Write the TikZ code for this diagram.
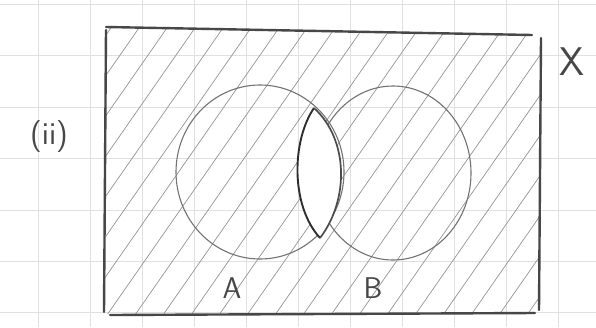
\documentclass[tikz,border=0pt]{standalone}
\begin{document}
\begin{tikzpicture}[x=1pt,y=-1pt,
  gridline/.style={draw=black!12, line width=0.7pt},
  frame/.style={draw=black!72, line width=2.4pt, line cap=round},
  setline/.style={draw=black!55, line width=1.1pt},
  hatch/.style={draw=black!42, line width=0.7pt},
  lensline/.style={draw=black!82, line width=1.9pt},
  lbl/.style={text=black!72, font=\sffamily, inner sep=0pt}]
\useasboundingbox (0,0) rectangle (596,327);
\fill[white] (0,0) rectangle (596,327);
% grid paper
\foreach \x in {38,90,142,194,246,298,350,402,454,506,558}
  \draw[gridline] (\x,0) -- (\x,327);
\foreach \y in {4,55,107,158,210,261,312}
  \draw[gridline] (0,\y) -- (596,\y);
% hatching inside the frame
\begin{scope}
  \clip (106,28) -- (540,36) -- (540,312) -- (105,314) -- cycle;
  \foreach \s in {-180,-152,...,560}
    \draw[hatch] (\s,325) -- ++(216,-310);
\end{scope}
% sets
\draw[setline] (260,172) ellipse [x radius=84pt, y radius=87pt];
\draw[setline] (393,173) ellipse [x radius=78pt, y radius=87pt];
% lens A intersect B (left unshaded)
\coordinate (lt) at (314,108);
\coordinate (lb) at (320,238);
\fill[white] (lt) .. controls (292,140) and (290,205) .. (lb)
  .. controls (349,200) and (349,140) .. (lt) -- cycle;
\draw[lensline] (lt) .. controls (292,140) and (290,205) .. (lb);
\draw[lensline, draw=black!70, line width=1.7pt] (lb) .. controls (349,200) and (349,140) .. (lt);
% frame
\coordinate (f1) at (106,27);
\coordinate (f2) at (532,35);
\coordinate (f3) at (541,38);
\coordinate (f4) at (539,310);
\coordinate (f5) at (535,313);
\coordinate (f6) at (110,315);
\coordinate (f7) at (106,30);
\coordinate (f8) at (104,312);
\draw[frame] (f1) -- (f2);
\draw[frame] (f3) -- (f4);
\draw[frame] (f6) -- (f5);
\draw[frame] (f7) -- (f8);
% labels
\node[lbl, font=\sffamily\fontsize{32}{32}\selectfont] (ii) at (49,137) {(ii)};
\node[lbl, font=\sffamily\fontsize{40}{40}\selectfont] (X) at (572,62) {X};
\node[lbl, font=\sffamily\fontsize{30}{30}\selectfont] (A) at (232,288) {A};
\node[lbl, font=\sffamily\fontsize{30}{30}\selectfont] (B) at (373,288) {B};
\end{tikzpicture}
\end{document}
